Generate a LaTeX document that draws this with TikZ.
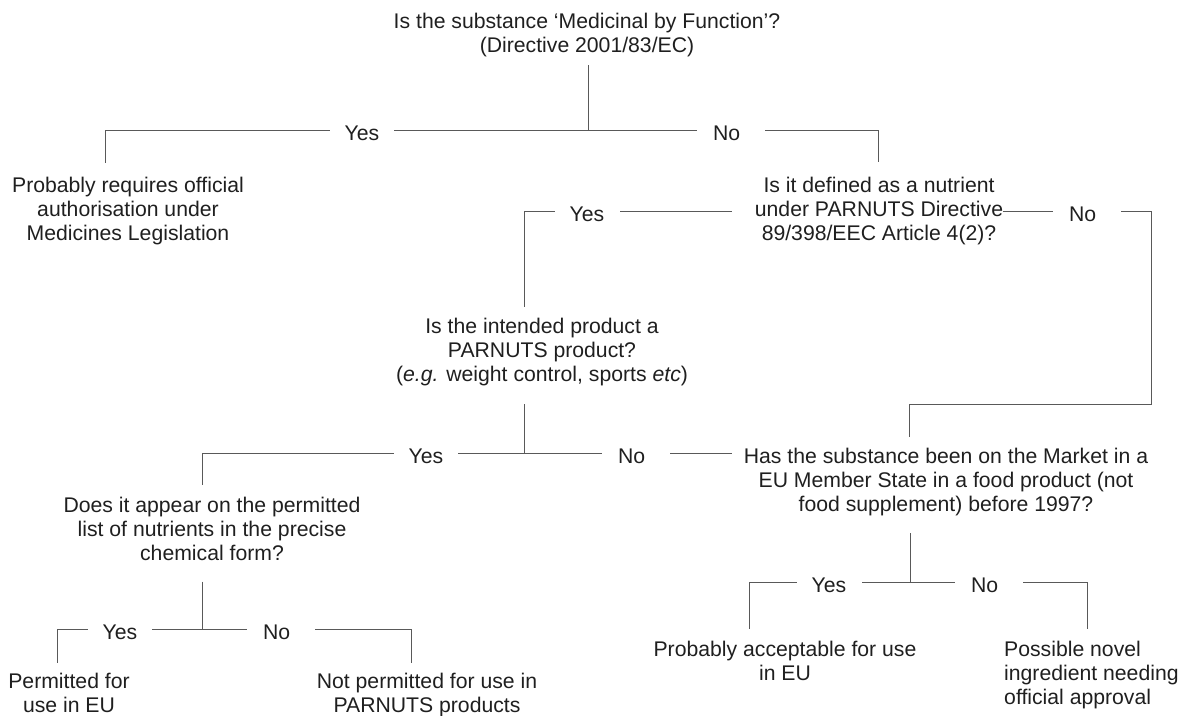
\documentclass[tikz,border=0pt]{standalone}
\usepackage{fontspec}
\setmainfont{Liberation Sans}
\usetikzlibrary{calc}

\begin{document}
\begin{tikzpicture}[x=1pt, y=1pt,
        txt/.style={align=center, inner sep=0pt, text=black!88, font=\fontsize{21.2}{24}\selectfont},
        ylab/.style={inner xsep=15pt, inner ysep=0pt, text height=21pt, text depth=0pt, text=black!88, font=\fontsize{21.2}{24}\selectfont},
        nlab/.style={ylab, inner xsep=16pt, text width=36pt, align=left},
        lnk/.style={draw=black!65, line width=0.9pt}]
            \useasboundingbox (0, 0) rectangle (1191, -715);

            \node (q1) at (587, -13.2) [txt, anchor=north] {Is the substance ‘Medicinal by Function’?\\(Directive 2001/83/EC)};
            \node (a1) at (128, -177.2) [txt, anchor=north] {Probably requires official\\authorisation under\\Medicines Legislation};
            \node (q2) at (879, -176.7) [txt, anchor=north] {Is it defined as a nutrient\\under PARNUTS Directive\\89/398/EEC Article 4(2)?};
            \node (q3) at (542, -317.7) [txt, anchor=north] {Is the intended product a\\PARNUTS product?\\(\textit{e.g.} weight control, sports \textit{etc})};
            \node (q4) at (946, -447.7) [txt, anchor=north] {Has the substance been on the Market in a\\EU Member State in a food product (not\\food supplement) before 1997?};
            \node (q5) at (212, -496.7) [txt, anchor=north] {Does it appear on the permitted\\list of nutrients in the precise\\chemical form?};
            \node (b1) at (69, -672.7) [txt, anchor=north] {Permitted for\\use in EU};
            \node (b2) at (427, -672.7) [txt, anchor=north] {Not permitted for use in\\PARNUTS products};
            \node (b3) at (785, -640.7) [txt, anchor=north] {Probably acceptable for use\\in EU};
            \node (b4) at (1004, -640.7) [txt, anchor=north west, align=left] {Possible novel\\ingredient needing\\official approval};

            \coordinate (j1) at (588, -130);
            \node (y1) at (362, -130) [ylab] {Yes};
            \node (n1) at (731, -130) [nlab] {No};
            \coordinate (e1a) at (105, -163);
            \coordinate (e1b) at (878, -162);
            \draw[lnk] ($(q1.south -| j1)+(0, -8)$) -- (j1);
            \draw[lnk] (j1) -- (y1) -| (e1a);
            \draw[lnk] (j1) -- (n1) -| (e1b);

            \node (y2) at (587, -211) [ylab] {Yes};
            \node (n2) at (1087, -211) [nlab] {No};
            \coordinate (e2a) at (524, -307);
            \coordinate (c2) at (1151, -404);
            \coordinate (e2b) at (909, -437);
            \draw[lnk] ($(q2.west |- y2)+(-23, 0)$) -- (y2) -| (e2a);
            \draw[lnk] (q2.east |- n2) -- (n2) -| (c2) -| (e2b);

            \coordinate (j3) at (524, -453);
            \node (y3) at (426, -453) [ylab] {Yes};
            \node (n3) at (636, -453) [nlab] {No};
            \coordinate (e3a) at (202, -485);
            \draw[lnk] ($(q3.south -| j3)+(0, -18.5)$) -- (j3);
            \draw[lnk] (j3) -- (y3) -| (e3a);
            \draw[lnk] (j3) -- (n3) -- ($(q4.west |- n3)+(-12, 0)$);

            \coordinate (j4) at (910, -582);
            \node (y4) at (829, -582) [ylab] {Yes};
            \node (n4) at (989, -582) [nlab] {No};
            \coordinate (e4a) at (749, -629);
            \coordinate (e4b) at (1087, -629);
            \draw[lnk] ($(q4.south -| j4)+(0, -17.5)$) -- (j4);
            \draw[lnk] (j4) -- (y4) -| (e4a);
            \draw[lnk] (j4) -- (n4) -| (e4b);

            \coordinate (j5) at (202, -629);
            \node (y5) at (120, -629) [ylab] {Yes};
            \node (n5) at (281, -629) [nlab] {No};
            \coordinate (e5a) at (57, -663);
            \coordinate (e5b) at (411, -663);
            \draw[lnk] ($(q5.south -| j5)+(0, -21)$) -- (j5);
            \draw[lnk] (j5) -- (y5) -| (e5a);
            \draw[lnk] (j5) -- (n5) -| (e5b);

        \end{tikzpicture}
\end{document}
